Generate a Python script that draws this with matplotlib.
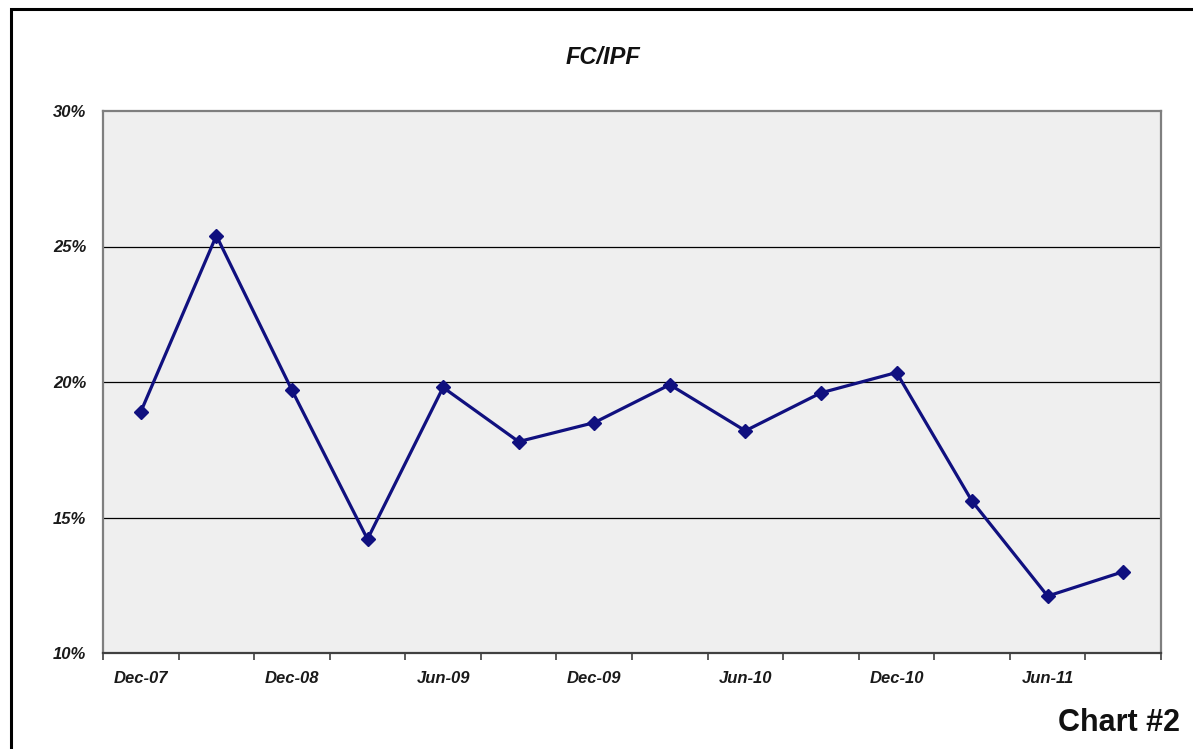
import matplotlib
matplotlib.use("Agg")
import matplotlib.pyplot as plt
from matplotlib.patches import Rectangle
from matplotlib.ticker import FixedLocator, FuncFormatter

categories = ["Dec-07", "Jun-08", "Dec-08", "Mar-09", "Jun-09", "Sep-09", "Dec-09",
              "Mar-10", "Jun-10", "Sep-10", "Dec-10", "Mar-11", "Jun-11", "Sep-11"]
values = [18.9, 25.4, 19.7, 14.2, 19.8, 17.8, 18.5, 19.9, 18.2, 19.6, 20.35, 15.6, 12.1, 13.0]
shown_labels = ["Dec-07", "", "Dec-08", "", "Jun-09", "", "Dec-09", "",
                "Jun-10", "", "Dec-10", "", "Jun-11", ""]
yticks = [10, 15, 20, 25, 30]

W, H = 1193, 749
fig = plt.figure(figsize=(W / 100, H / 100), dpi=100)
fig.patch.set_facecolor("white")

# outer frame (cut off at right and bottom)
fig.patches.append(Rectangle((11 / W, -0.05), 1.2, 1 - 9 / H + 0.05,
                             transform=fig.transFigure, fill=False,
                             edgecolor="black", linewidth=2.2))

left, right, top, bottom = 103, 1161, 111, 653
ax = fig.add_axes([left / W, 1 - bottom / H, (right - left) / W, (bottom - top) / H])
ax.set_facecolor("#efefef")

x = list(range(len(categories)))
ax.plot(x, values, color="#10107f", linewidth=2.3, marker="D", markersize=7,
        markerfacecolor="#10107f", markeredgecolor="#10107f", zorder=3)

ax.set_xlim(-0.5, len(categories) - 0.5)
ax.set_ylim(10, 30)

for yv in yticks[1:-1]:
    ax.axhline(yv, color="black", linewidth=0.9, zorder=1)

for s in ax.spines.values():
    s.set_color("#7f7f7f")
    s.set_linewidth(1.6)
ax.spines["bottom"].set_color("#404040")

ax.xaxis.set_major_locator(FixedLocator([i - 0.5 for i in range(len(categories) + 1)]))
ax.tick_params(axis="x", which="major", length=5, width=1.2, color="#404040", labelbottom=False)
ax.tick_params(axis="x", which="minor", length=0, pad=13)
ax.set_xticks(x, minor=True)
ax.set_xticklabels(shown_labels, minor=True, fontfamily="Liberation Sans",
                   fontweight="bold", fontstyle="italic", fontsize=12, color="#1a1a1a")

ax.set_yticks(yticks)
ax.yaxis.set_major_formatter(FuncFormatter(lambda v, p: f"{v:.0f}%"))
ax.tick_params(axis="y", length=0, pad=12)
for lab in ax.get_yticklabels():
    lab.set_fontfamily("Liberation Sans")
    lab.set_fontweight("bold")
    lab.set_fontstyle("italic")
    lab.set_fontsize(12)
    lab.set_color("#1a1a1a")

fig.text(603 / W, 1 - 58 / H, "FC/IPF", ha="center", va="center",
         fontfamily="Liberation Sans", fontweight="bold", fontstyle="italic",
         fontsize=17, color="#111111")
fig.text(1180 / W, 1 - 723 / H, "Chart #2", ha="right", va="center",
         fontfamily="Liberation Sans", fontweight="bold", fontsize=22, color="#111111")

fig.savefig("out.png", dpi=100)
